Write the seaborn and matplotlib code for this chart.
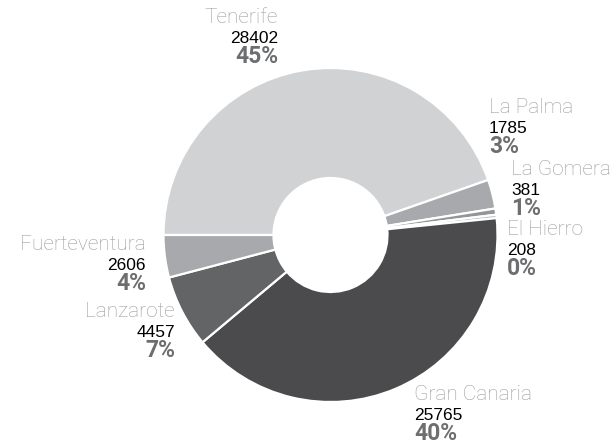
import matplotlib
matplotlib.use("Agg")
import matplotlib.pyplot as plt
import seaborn as sns

sns.set_theme(style="white")

islands = ["Tenerife", "La Palma", "La Gomera", "El Hierro", "Gran Canaria", "Lanzarote", "Fuerteventura"]
values = [28402, 1785, 381, 208, 25765, 4457, 2606]
pct_labels = ["45%", "3%", "1%", "0%", "40%", "7%", "4%"]
colors = ["#d1d2d4", "#a7a9ac", "#939598", "#bcbec0", "#4b4b4d", "#636466", "#a7a9ac"]

# label anchor (x, name baseline y in pixels from top, alignment)
label_pos = {
    "Tenerife": (278, 23, "right"),
    "La Palma": (489, 113, "left"),
    "La Gomera": (511, 175, "left"),
    "El Hierro": (507, 235, "left"),
    "Gran Canaria": (414, 400, "left"),
    "Lanzarote": (175, 317, "right"),
    "Fuerteventura": (146, 250, "right"),
}

W, H = 612, 444
fig = plt.figure(figsize=(W / 100, H / 100), dpi=100)
ax = fig.add_axes([0, 0, 1, 1])

cx, cy, R, r_in = 330.5, 235, 167, 57
ax.pie(values, colors=colors, startangle=180, counterclock=False,
       center=(cx, H - cy), radius=R,
       wedgeprops=dict(width=R - r_in, edgecolor="white", linewidth=1.6))
ax.set_xlim(0, W)
ax.set_ylim(0, H)
ax.set_aspect("equal")
ax.axis("off")

for name, val, pct in zip(islands, values, pct_labels):
    x, yb, ha = label_pos[name]
    ax.text(x, H - yb, name, ha=ha, va="baseline", fontsize=15,
            family="Roboto", fontweight="light", color="#9b9b9b")
    ax.text(x, H - (yb + 20), str(val), ha=ha, va="baseline", fontsize=12.5,
            family="Liberation Sans", color="#000000")
    ax.text(x, H - (yb + 40), pct, ha=ha, va="baseline", fontsize=16.5,
            family="Roboto", fontweight="bold", color="#6d6e70")

fig.savefig("out.png", dpi=100, facecolor="white")
